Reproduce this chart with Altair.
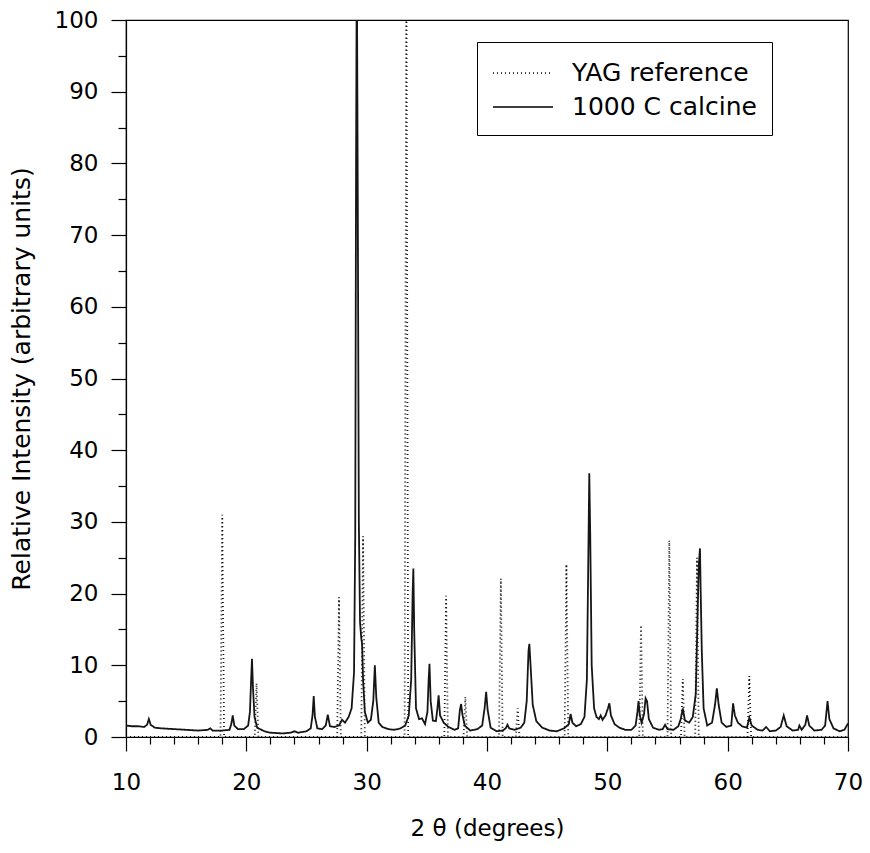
import altair as alt
import pandas as pd

# ---- data ----
calcine_2theta = [
    10.0, 10.5, 11.0, 11.5, 11.75, 11.9, 12.05, 12.4, 13.0, 14.0, 15.0, 16.0, 16.8, 17.0, 17.2, 18.0,
    18.6, 18.75, 18.87, 19.0, 19.3, 19.8, 20.15, 20.3, 20.4, 20.47, 20.55, 20.68, 20.9, 21.5, 22.0,
    23.0, 23.7, 24.0, 24.3, 25.0, 25.35, 25.5, 25.6, 25.7, 25.9, 26.3, 26.6, 26.77, 26.95, 27.3,
    27.7, 27.95, 28.2, 28.5, 28.75, 28.95, 29.05, 29.12, 29.18, 29.26, 29.35, 29.45, 29.55, 29.62,
    29.7, 29.85, 30.1, 30.35, 30.55, 30.68, 30.8, 31.0, 31.3, 31.8, 32.3, 32.8, 33.2, 33.5, 33.7,
    33.82, 33.88, 33.95, 34.1, 34.35, 34.6, 34.85, 35.05, 35.15, 35.22, 35.32, 35.5, 35.75, 35.88,
    35.98, 36.1, 36.4, 36.8, 37.3, 37.6, 37.75, 37.85, 37.95, 38.15, 38.6, 39.2, 39.6, 39.8, 39.93,
    40.05, 40.3, 40.8, 41.3, 41.55, 41.7, 41.85, 42.3, 42.8, 43.1, 43.3, 43.45, 43.52, 43.62, 43.8,
    44.1, 44.6, 45.2, 45.8, 46.4, 46.8, 46.95, 47.1, 47.4, 47.8, 48.1, 48.3, 48.42, 48.5, 48.58,
    48.7, 48.9, 49.1, 49.3, 49.45, 49.6, 49.85, 50.05, 50.17, 50.3, 50.6, 51.0, 51.5, 52.0, 52.35,
    52.5, 52.59, 52.7, 52.85, 53.05, 53.18, 53.3, 53.45, 53.8, 54.3, 54.6, 54.8, 55.0, 55.5, 55.9,
    56.1, 56.27, 56.45, 56.8, 57.1, 57.35, 57.5, 57.6, 57.7, 57.75, 57.85, 58.0, 58.3, 58.7, 58.95,
    59.1, 59.25, 59.5, 59.9, 60.3, 60.45, 60.6, 60.85, 61.2, 61.6, 61.8, 62.0, 62.5, 62.9, 63.2,
    63.5, 64.0, 64.4, 64.66, 64.9, 65.4, 65.85, 65.96, 66.15, 66.45, 66.6, 66.78, 67.2, 67.8, 68.1,
    68.3, 68.45, 68.8, 69.3, 69.7, 70.0,
]
calcine_intensity = [
    1.6, 1.5, 1.5, 1.4, 1.7, 2.5, 1.7, 1.3, 1.2, 1.1, 1.0, 0.9, 1.0, 1.2, 0.9, 0.9,
    1.0, 1.8, 3.0, 1.6, 1.1, 1.1, 1.6, 3.5, 8.0, 10.9, 7.0, 2.8, 1.3, 0.8, 0.6,
    0.5, 0.6, 0.8, 0.6, 0.8, 1.2, 3.0, 5.7, 2.8, 1.2, 1.1, 1.6, 3.1, 1.5, 1.4,
    1.6, 2.4, 2.0, 2.8, 4.0, 9.0, 28.0, 80.0, 110.0, 75.0, 30.0, 16.0, 13.8, 13.0,
    8.0, 3.5, 2.0, 2.4, 5.0, 10.0, 5.5, 2.0, 1.4, 1.1, 1.0, 1.2, 1.6, 3.0, 8.0,
    20.0, 23.5, 15.0, 4.0, 2.5, 2.6, 1.8, 3.5, 8.0, 10.2, 5.0, 2.3, 2.2, 4.0,
    5.8, 3.0, 2.0, 1.4, 1.0, 1.2, 3.8, 4.6, 3.2, 1.6, 0.9, 1.1, 1.6, 4.0, 6.3,
    3.8, 1.3, 0.8, 0.9, 1.2, 1.7, 1.2, 1.0, 1.3, 2.0, 5.0, 12.0, 13.0, 10.0, 4.5,
    2.2, 1.3, 0.9, 0.8, 1.2, 1.8, 3.2, 2.0, 1.5, 1.8, 2.8, 8.0, 25.0, 36.8, 28.0,
    10.0, 4.0, 2.8, 2.5, 3.0, 2.4, 3.0, 4.0, 4.7, 3.0, 1.8, 1.3, 1.0, 1.0, 1.6,
    3.5, 5.0, 3.0, 2.0, 3.2, 5.4, 5.0, 2.5, 1.3, 1.0, 1.1, 1.7, 1.1, 1.0, 1.5,
    2.5, 4.0, 2.3, 2.0, 2.8, 6.0, 17.0, 24.0, 26.3, 21.0, 12.0, 4.0, 1.6, 2.0, 4.5,
    6.8, 4.5, 2.0, 1.4, 1.6, 4.7, 3.0, 2.0, 1.5, 1.3, 2.7, 1.6, 1.0, 0.9, 1.4,
    0.8, 0.9, 1.4, 3.0, 1.5, 0.9, 1.0, 1.6, 1.0, 1.7, 3.0, 1.6, 0.9, 1.0, 1.6,
    5.0, 2.5, 1.2, 0.8, 1.0, 1.9,
]

yag_2theta = [
    10.0, 17.85, 18.0, 18.15, 20.7, 20.85, 21.0, 27.55, 27.7, 27.85, 29.55, 29.7, 29.85,
    33.15, 33.3, 33.45, 36.45, 36.6, 36.75, 38.05, 38.2, 38.35, 41.0, 41.15, 41.3,
    42.4, 42.55, 42.7, 46.45, 46.6, 46.75, 52.65, 52.8, 52.95, 55.0, 55.15, 55.3,
    56.12, 56.27, 56.42, 57.3, 57.45, 57.6, 61.65, 61.8, 61.95, 70.0,
]
yag_intensity = [
    0, 0, 31.0, 0, 0, 7.5, 0, 0, 19.5, 0, 0, 28.0, 0,
    0, 110.0, 0, 0, 19.7, 0, 0, 5.6, 0, 0, 22.1, 0,
    0, 4.0, 0, 0, 24.1, 0, 0, 15.6, 0, 0, 27.4, 0,
    0, 8.1, 0, 0, 25.0, 0, 0, 8.5, 0, 0,
]

series_names = ["YAG reference", "1000 C calcine"]
x_tick_values = list(range(10, 71, 2))
y_tick_values = list(range(0, 101, 5))

df = pd.concat(
    [
        pd.DataFrame({"two_theta": yag_2theta, "intensity": yag_intensity, "series": series_names[0]}),
        pd.DataFrame({"two_theta": calcine_2theta, "intensity": calcine_intensity, "series": series_names[1]}),
    ],
    ignore_index=True,
)

FONT = "DejaVu Sans"

chart = (
    alt.Chart(df)
    .mark_line(clip=True, color="#151515", strokeWidth=1.8)
    .encode(
        x=alt.X(
            "two_theta:Q",
            scale=alt.Scale(domain=[10, 70], nice=False, zero=False),
            axis=alt.Axis(
                values=x_tick_values,
                title="2 θ (degrees)",
                labelExpr="datum.value % 10 === 0 ? datum.label : ''",
                tickSize={"condition": {"test": "datum.value % 10 === 0", "value": 14}, "value": 7},
                labelPadding=20,
                labelFlush=False,
                labelOverlap=False,
                labelFontSize=23,
                titleFontSize=23,
                titleFontWeight="normal",
                titleY=80,
                grid=False,
            ),
        ),
        y=alt.Y(
            "intensity:Q",
            scale=alt.Scale(domain=[0, 100], nice=False),
            axis=alt.Axis(
                values=y_tick_values,
                title="Relative Intensity (arbitrary units)",
                labelExpr="datum.value % 10 === 0 ? datum.label : ''",
                tickSize={"condition": {"test": "datum.value % 10 === 0", "value": 15}, "value": 8},
                labelPadding=13,
                labelFlush=False,
                labelOverlap=False,
                labelFontSize=23,
                titleFontSize=25,
                titleFontWeight="normal",
                titleX=-92,
                grid=False,
            ),
        ),
        strokeDash=alt.StrokeDash(
            "series:N",
            scale=alt.Scale(domain=series_names, range=[[1, 3], [1, 0]]),
            legend=alt.Legend(
                title=None,
                orient="none",
                legendX=351,
                legendY=22,
            ),
        ),
    )
    .properties(
        width=722,
        height=717,
        background="white",
        autosize=alt.AutoSizeParams(type="none"),
        padding={"left": 118, "top": 12, "right": 14, "bottom": 115},
    )
    .configure_axis(
        domainColor="black",
        domainWidth=1.2,
        tickColor="black",
        tickWidth=1.2,
        labelColor="black",
        titleColor="black",
        labelFont=FONT,
        titleFont=FONT,
        titleFontWeight="normal",
    )
    .configure_legend(
        symbolType="M-1,0H3",
        symbolSize=900,
        symbolStrokeWidth=1.5,
        symbolStrokeColor="black",
        labelFont=FONT,
        labelFontSize=25,
        labelColor="black",
        labelOffset=48,
        rowPadding=5,
        padding=15,
        strokeColor="black",
        fillColor="white",
        labelLimit=400,
    )
    .configure_view(stroke="black", strokeWidth=1.2)
)

chart.save("out.html", embed_options={"renderer": "svg", "actions": False})
